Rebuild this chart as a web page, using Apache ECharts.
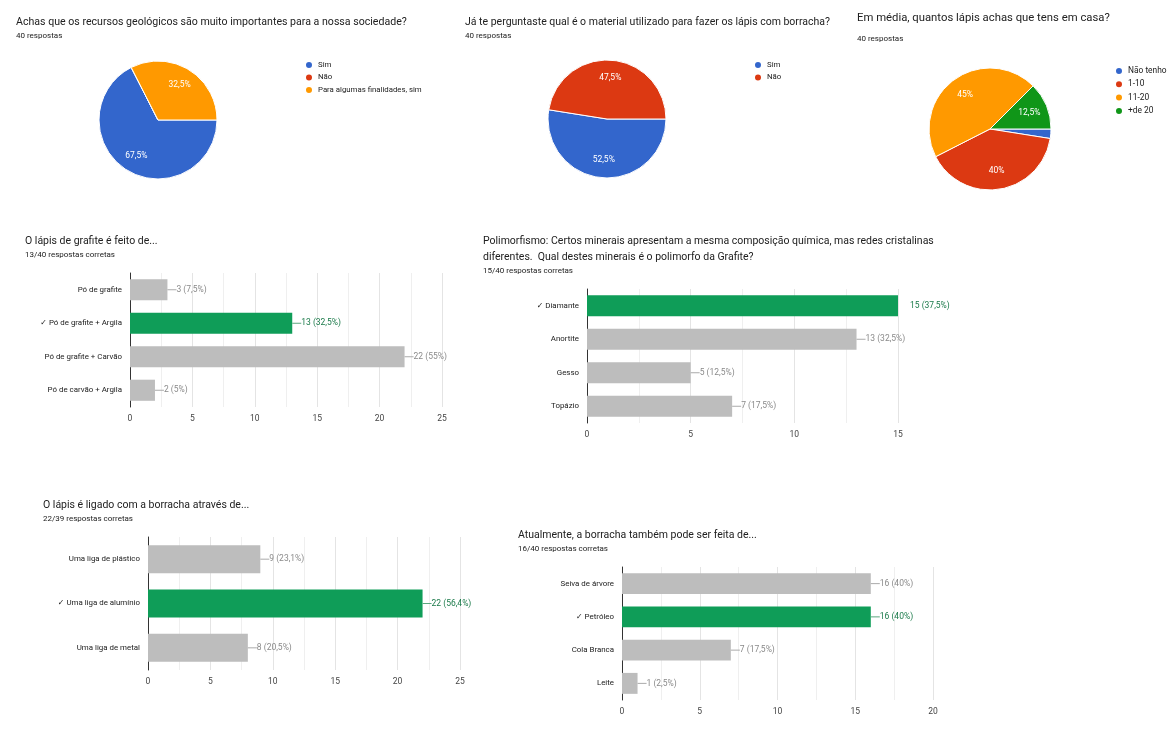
<!DOCTYPE html>
<html>
<head>
<meta charset="utf-8">
<script src="https://cdn.jsdelivr.net/npm/echarts@6/dist/echarts.min.js"></script>
<style>
  html, body { margin: 0; padding: 0; background: #fff; }
  #main { width: 1176px; height: 754px; }
</style>
</head>
<body>
<div id="main"></div>
<script>
// ---- dados ----
const pie1Names = ['Sim', 'Não', 'Para algumas finalidades, sim'];
const pie1Values = [27, 0, 13];
const pie2Names = ['Sim', 'Não'];
const pie2Values = [21, 19];
const pie3Names = ['Não tenho', '1-10', '11-20', '+de 20'];
const pie3Values = [1, 16, 18, 5];

const q1Cats = ['Pó de grafite', '✓ Pó de grafite + Argila', 'Pó de grafite + Carvão', 'Pó de carvão + Argila'];
const q1Values = [3, 13, 22, 2];
const q2Cats = ['✓ Diamante', 'Anortite', 'Gesso', 'Topázio'];
const q2Values = [15, 13, 5, 7];
const q3Cats = ['Uma liga de plástico', '✓ Uma liga de alumínio', 'Uma liga de metal'];
const q3Values = [9, 22, 8];
const q4Cats = ['Seiva de árvore', '✓ Petróleo', 'Cola Branca', 'Leite'];
const q4Values = [16, 16, 7, 1];

const pieColors = ['#3366cc', '#dc3912', '#ff9900', '#109618'];
const FONT = 'Roboto, "DejaVu Sans", sans-serif';

let titles = [], legends = [], grids = [], xAxes = [], yAxes = [], series = [];

function addTitle(text, sub, left, top, size, lh, gap) {
  titles.push({
    text: text, subtext: sub, left: left, top: top, padding: 0, itemGap: gap,
    textStyle: { fontFamily: FONT, fontSize: size, fontWeight: 'normal', color: '#212121', lineHeight: lh },
    subtextStyle: { fontFamily: FONT, fontSize: 8, color: '#212121', lineHeight: 11 }
  });
}

function fmtPct(p) {
  return String(p).replace('.', ',') + '%';
}

// pie: fatias + camada só de rótulos (rótulos mais afastados do centro, como no original)
function addPie(names, values, center, r, legendLeft, legendTop, gap, legendSize) {
  const data = names.map((n, i) => ({ name: n, value: values[i], itemStyle: { color: pieColors[i] } }));
  series.push({
    type: 'pie', center: center, radius: r, startAngle: 0, clockwise: true,
    data: data, label: { show: false }, labelLine: { show: false },
    itemStyle: { borderColor: '#fff', borderWidth: 1 }, silent: true
  });
  series.push({
    type: 'pie', center: center, radius: Math.round(r * 1.3), startAngle: 0, clockwise: true,
    data: names.map((n, i) => ({ name: n, value: values[i] })),
    itemStyle: { color: 'rgba(0,0,0,0)' }, silent: true, labelLine: { show: false },
    label: {
      position: 'inside', color: '#fff', fontFamily: FONT, fontSize: 8.5,
      formatter: p => p.percent >= 5 ? fmtPct(p.percent) : ''
    }
  });
  legends.push({
    data: names, left: legendLeft, top: legendTop, orient: 'vertical', padding: 0,
    icon: 'circle', itemWidth: 8, itemHeight: 8, itemGap: gap, selectedMode: false,
    textStyle: { fontFamily: FONT, fontSize: legendSize, color: '#212121', lineHeight: 10 }
  });
}

function addBar(cats, values, correct, total, max, rect) {
  const idx = grids.length;
  grids.push({ left: rect[0], top: rect[1], width: rect[2], height: rect[3], containLabel: false });
  xAxes.push({
    type: 'value', gridIndex: idx, min: 0, max: max, interval: 5,
    axisLine: { show: false }, axisTick: { show: false },
    axisLabel: { fontFamily: FONT, fontSize: 8.5, color: '#444', margin: 7 },
    splitLine: { lineStyle: { color: '#e4e4e4' } },
    minorTick: { show: false, splitNumber: 2 },
    minorSplitLine: { show: true, lineStyle: { color: '#efefef' } }
  });
  yAxes.push({
    type: 'category', gridIndex: idx, data: cats, inverse: true,
    axisLine: { lineStyle: { color: '#333', width: 1 } }, axisTick: { show: false },
    axisLabel: { fontFamily: FONT, fontSize: 7.9, color: '#1a1a1a', margin: 8 }
  });
  series.push({
    type: 'bar', xAxisIndex: idx, yAxisIndex: idx, barWidth: '63%', silent: true,
    data: values.map((v, i) => {
      const ok = i === correct;
      const pct = Math.round(v / total * 1000) / 10;
      const txt = v + ' (' + fmtPct(pct) + ')';
      const atEnd = v >= max;
      return {
        value: v,
        itemStyle: { color: ok ? '#0f9d58' : '#bdbdbd' },
        label: {
          show: true, position: 'right', distance: atEnd ? 12 : 0,
          formatter: atEnd ? '{t|' + txt + '}' : '{l|}{t|' + txt + '}',
          rich: {
            l: { width: 9, height: 1, backgroundColor: ok ? '#5aa77e' : '#aaaaaa' },
            t: { fontFamily: FONT, fontSize: 8.5, color: ok ? '#1b7a4a' : '#8a8a8a' }
          }
        }
      };
    })
  });
}

// ---- títulos ----
addTitle('Achas que os recursos geológicos são muito importantes para a nossa sociedade?', '40 respostas', 16, 15, 10.6, 14, 1);
addTitle('Já te perguntaste qual é o material utilizado para fazer os lápis com borracha?', '40 respostas', 465, 15, 10.5, 14, 1);
addTitle('Em média, quantos lápis achas que tens em casa?', '40 respostas', 857, 10.5, 11.3, 15, 8);
addTitle('O lápis de grafite é feito de...', '13/40 respostas corretas', 25, 234, 10.5, 14, 1);
addTitle('Polimorfismo: Certos minerais apresentam a mesma composição química, mas redes cristalinas\ndiferentes.  Qual destes minerais é o polimorfo da Grafite?', '15/40 respostas corretas', 483, 233, 10.5, 16, 0);
addTitle('O lápis é ligado com a borracha através de...', '22/39 respostas corretas', 43, 498, 10.5, 14, 1);
addTitle('Atualmente, a borracha também pode ser feita de...', '16/40 respostas corretas', 518, 528, 10.5, 14, 1);

// ---- pies ----
addPie(pie1Names, pie1Values, [158, 120], 59, 304, 60, 2.5, 7.8);
addPie(pie2Names, pie2Values, [607, 119], 59, 753, 60, 2.5, 7.8);
addPie(pie3Names, pie3Values, [990, 129], 61, 1114, 66, 3.3, 8.4);

// ---- barras ----
addBar(q1Cats, q1Values, 1, 40, 25, [130, 273, 312, 134]);
addBar(q2Cats, q2Values, 0, 40, 15, [587, 289, 311, 134]);
addBar(q3Cats, q3Values, 1, 39, 25, [148, 537, 312, 133]);
addBar(q4Cats, q4Values, 1, 40, 20, [622, 567, 311, 133]);

const chart = echarts.init(document.getElementById('main'));
chart.setOption({
  backgroundColor: '#fff',
  animation: false,
  title: titles,
  legend: legends,
  grid: grids,
  xAxis: xAxes,
  yAxis: yAxes,
  series: series
});
</script>
</body>
</html>
